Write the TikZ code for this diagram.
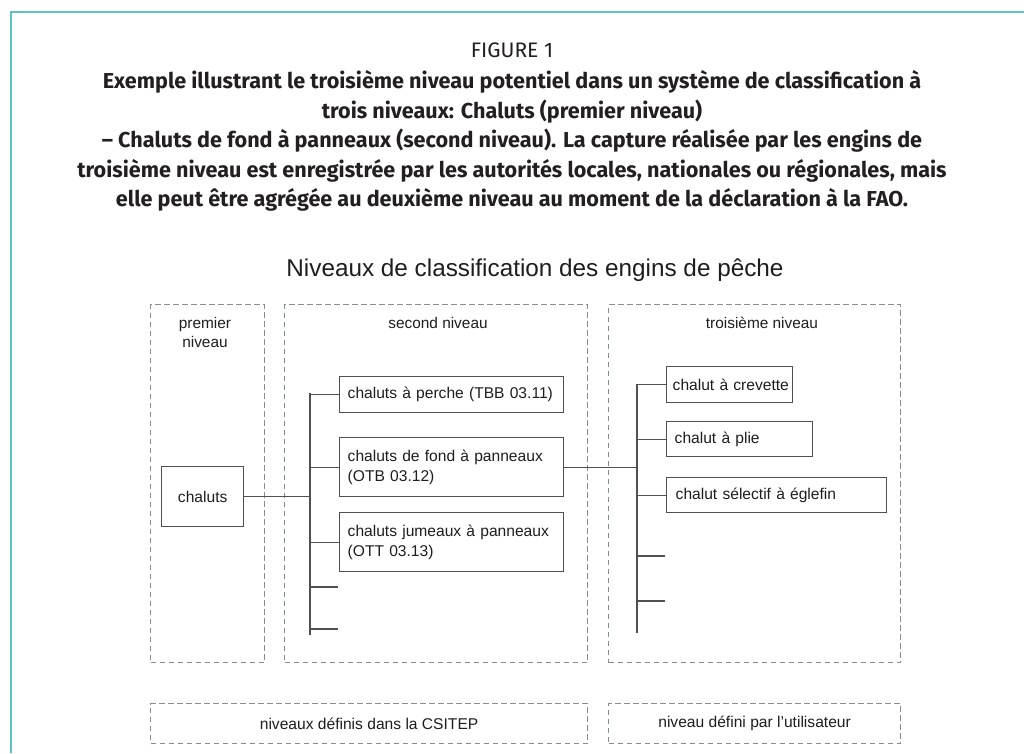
\documentclass[tikz,border=0pt]{standalone}
\usepackage{fontspec}
\setmainfont{Liberation Sans}
\newfontfamily\capfont{Fira Sans}
\definecolor{framecol}{RGB}{95,195,193}
\definecolor{dashgray}{RGB}{135,140,148}
\definecolor{boxgray}{RGB}{80,80,80}
\definecolor{txt}{RGB}{30,30,30}
\definecolor{captxt}{RGB}{35,31,32}
\begin{document}
\begin{tikzpicture}[x=1pt,y=-1pt,
  lvl/.style={draw=dashgray,dash pattern=on 5.5pt off 3.5pt,line width=1.2pt,inner sep=0pt},
  gear/.style={draw=boxgray,line width=1.4pt,font=\fontsize{15.6}{20}\selectfont,text=txt,anchor=north west,align=left},
  link/.style={draw=boxgray,line width=1.4pt},
  hdr/.style={font=\fontsize{15.4}{19}\selectfont,text=txt,align=center},
  foot/.style={font=\fontsize{15.6}{18}\selectfont,text=txt}]
\useasboundingbox (0,0) rectangle (1024,753);
\fill[white] (0,0) rectangle (1024,753);
\draw[framecol,line width=2pt] (1024,12) -- (11,12) -- (11,753);

% caption
\node[font=\capfont\fontsize{21}{24}\selectfont,text=captxt] (fig) at (512,50) {FIGURE 1};
\node[font=\capfont\bfseries\fontsize{21.6}{29.5}\selectfont,text=captxt,align=center] (cap) at (512,141)
 {Exemple illustrant le troisième niveau potentiel dans un système de classification à\\
  trois niveaux: Chaluts (premier niveau)\\
  – Chaluts de fond à panneaux (second niveau). La capture réalisée par les engins de\\
  troisième niveau est enregistrée par les autorités locales, nationales ou régionales, mais\\
  elle peut être agrégée au deuxième niveau au moment de la déclaration à la FAO.};

\node[font=\fontsize{24.3}{28}\selectfont,text=txt] (title) at (535,270) {Niveaux de classification des engins de pêche};

% level boxes
\node[lvl,anchor=north west,minimum width=114,minimum height=358] (L1) at (150,304) {};
\node[lvl,anchor=north west,minimum width=303,minimum height=358] (L2) at (284,304) {};
\node[lvl,anchor=north west,minimum width=292,minimum height=358] (L3) at (608,304) {};
\node[hdr] (h1) at (205,332) {premier\\niveau};
\node[hdr] (h2) at (438,323) {second niveau};
\node[hdr] (h3) at (762,323) {troisième niveau};

\node[lvl,anchor=north west,minimum width=437,minimum height=40] (B1) at (150,703) {};
\node[lvl,anchor=north west,minimum width=292,minimum height=40] (B2) at (608,703) {};
\node[foot] (f1) at (B1.center) {niveaux définis dans la CSITEP};
\node[foot] (f2) at (B2.center) {niveau défini par l'utilisateur};

% gear boxes
\node[gear,align=center,minimum width=82,minimum height=60,inner sep=0pt] (chaluts) at (161,466) {chaluts};
\node[gear,text width=208,inner xsep=8pt,minimum height=36] (perche) at (339,376) {\mbox{chaluts à perche (TBB 03.11)}};
\node[gear,text width=208,inner xsep=8pt,minimum height=59] (fond) at (339,437) {\mbox{chaluts de fond à panneaux}\\(OTB 03.12)};
\node[gear,text width=208,inner xsep=8pt,minimum height=59] (jum) at (339,512) {\mbox{chaluts jumeaux à panneaux}\\(OTT 03.13)};

\node[gear,text width=114,inner xsep=6pt,minimum height=36] (crev) at (666,366) {\mbox{chalut à crevette}};
\node[gear,text width=130,inner xsep=8pt,minimum height=35] (plie) at (666,421) {\mbox{chalut à plie}};
\node[gear,text width=202,inner xsep=9pt,minimum height=35] (selec) at (666,477) {\mbox{chalut sélectif à églefin}};

% trunks
\coordinate (t2top) at (310,393);
\coordinate (t2bot) at (310,635);
\coordinate (e1) at (338,587);
\coordinate (e2) at (338,629);
\coordinate (t3top) at (637,384);
\coordinate (t3bot) at (637,633);
\coordinate (g1) at (665,556);
\coordinate (g2) at (665,601);

\draw[link] (chaluts.east) -- (chaluts.east -| t2top);
\draw[link] (t2top) -- (t2bot);
\draw[link] (t2top |- perche.west) -- (perche.west);
\draw[link] (t2top |- fond.west) -- (fond.west);
\draw[link] (t2top |- jum.west) -- (jum.west);
\draw[link] (t2top |- e1) -- (e1);
\draw[link] (t2top |- e2) -- (e2);

\draw[link] (fond.east) -- (fond.east -| t3top);
\draw[link] (t3top) -- (t3bot);
\draw[link] (t3top |- crev.west) -- (crev.west);
\draw[link] (t3top |- plie.west) -- (plie.west);
\draw[link] (t3top |- selec.west) -- (selec.west);
\draw[link] (t3top |- g1) -- (g1);
\draw[link] (t3top |- g2) -- (g2);
\end{tikzpicture}
\end{document}
